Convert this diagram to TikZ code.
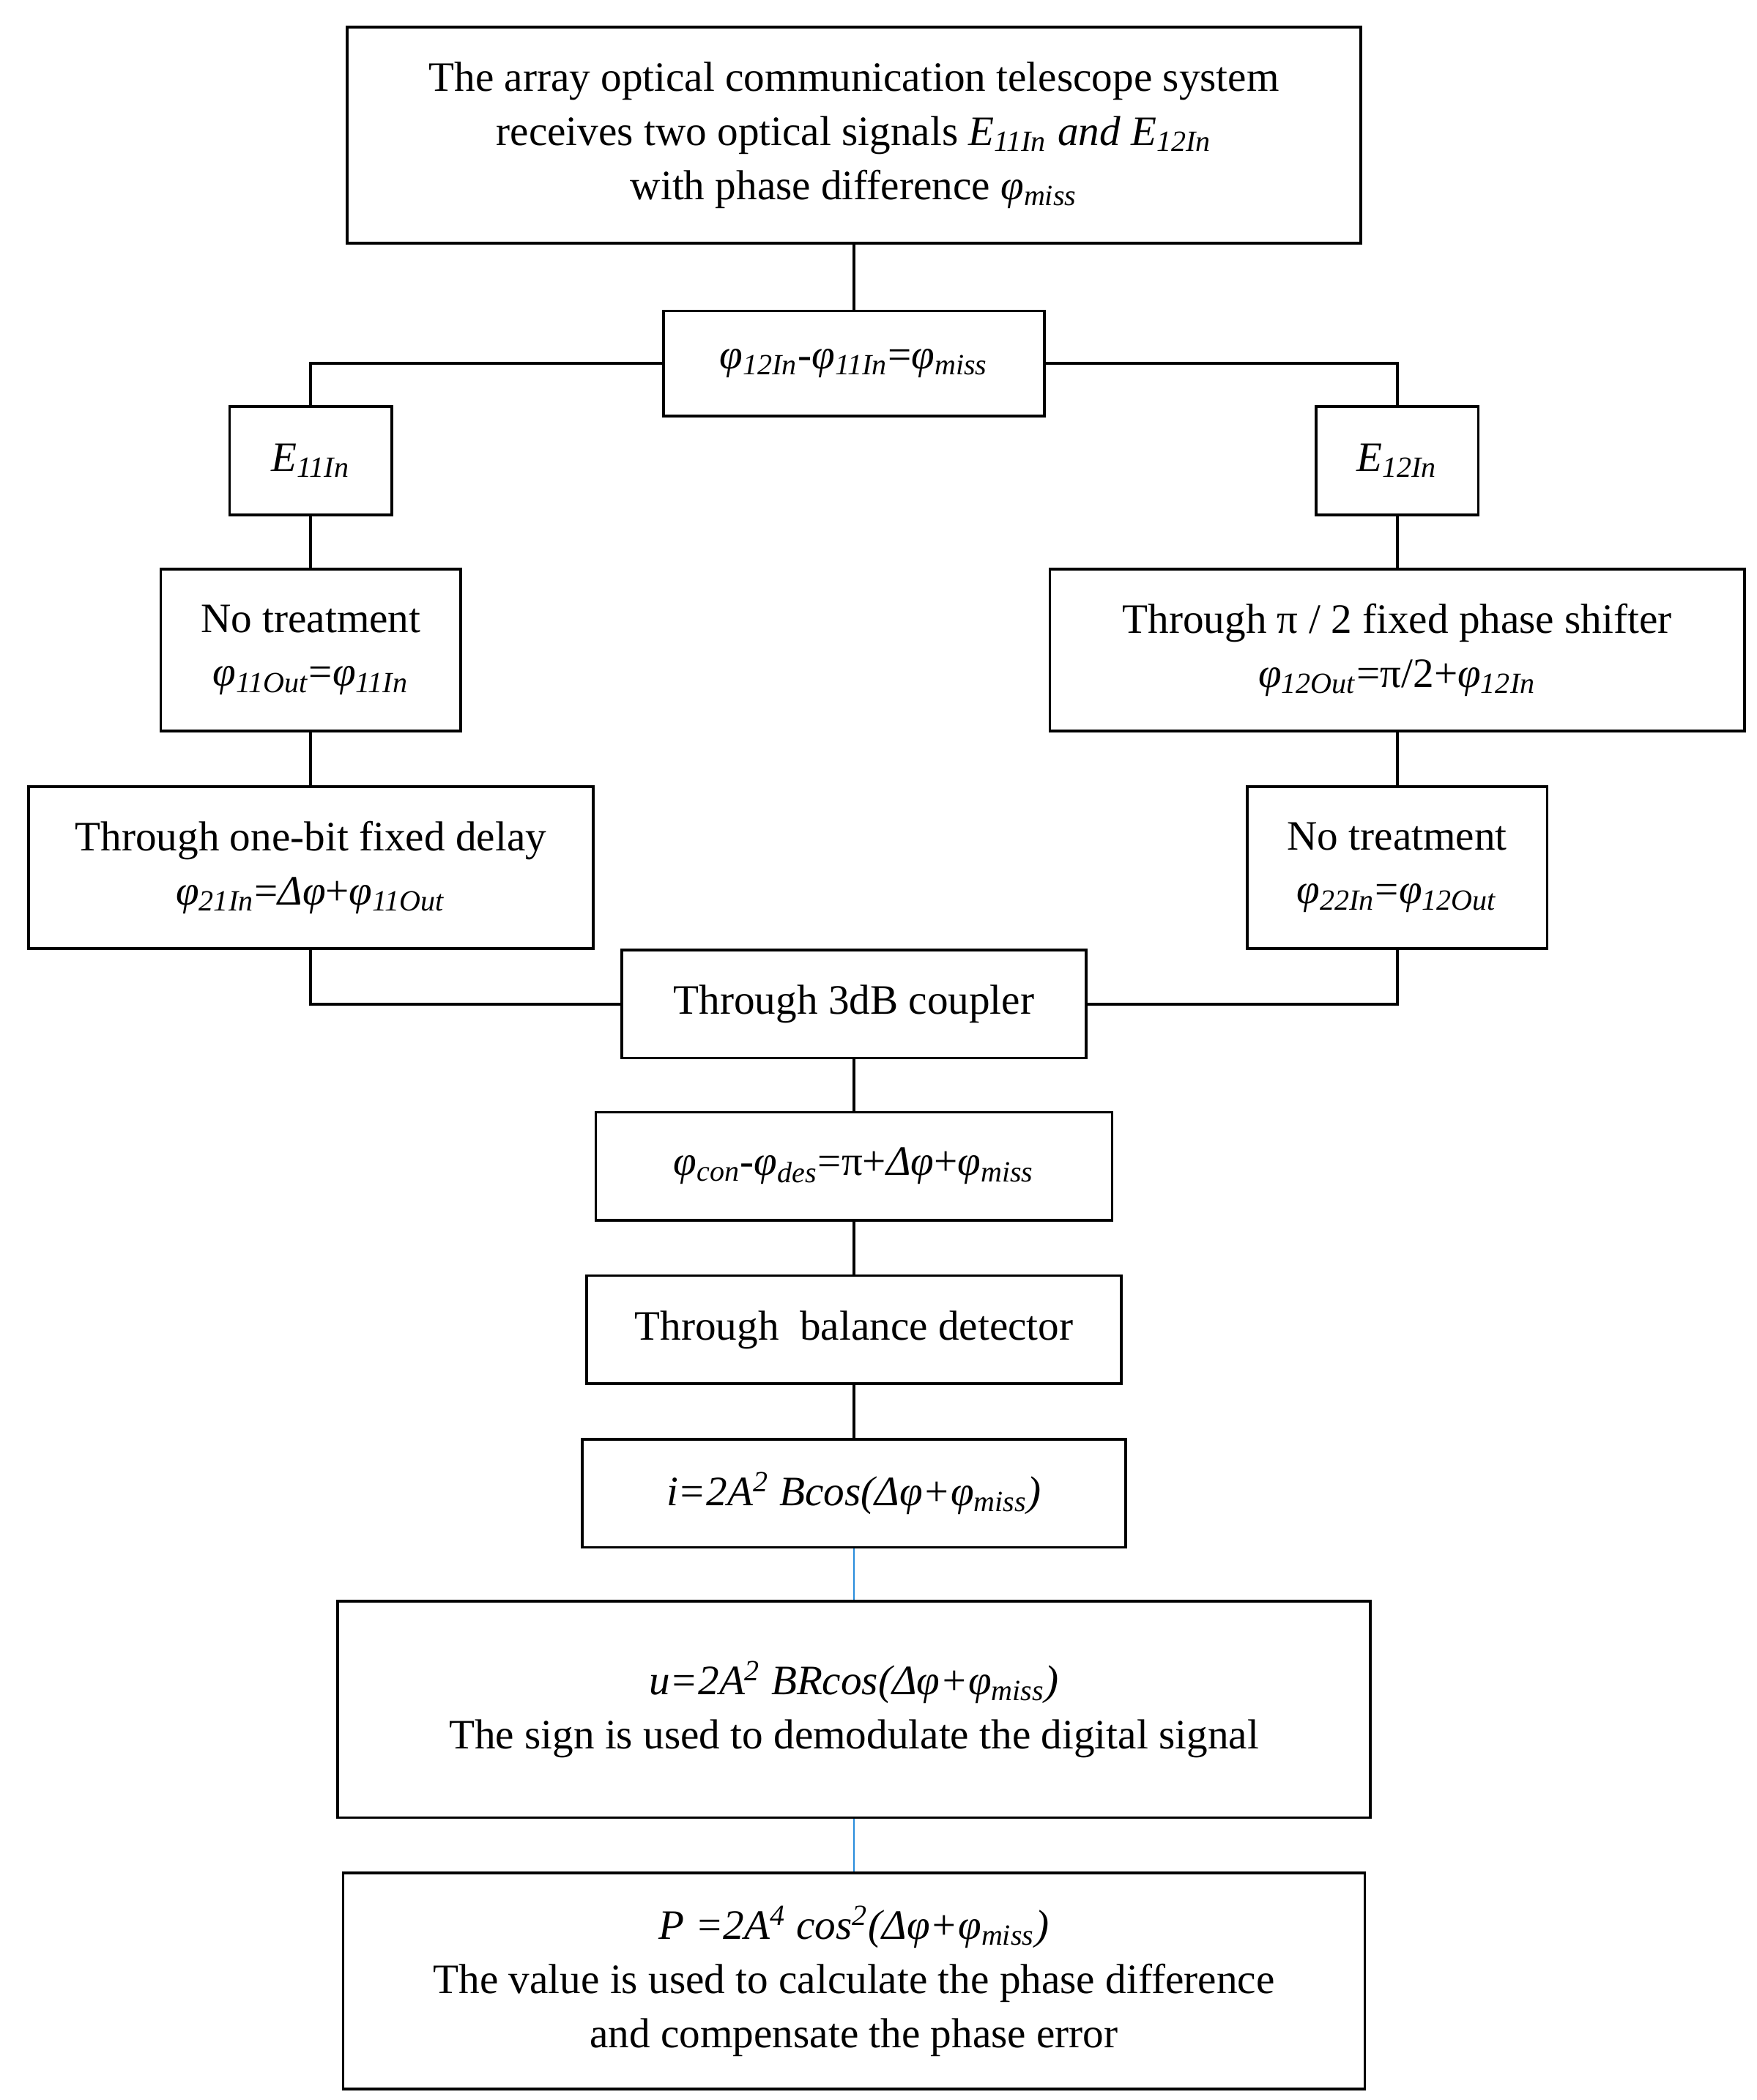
\documentclass[tikz,border=0pt]{standalone}
\usepackage{fontspec}
\setmainfont{Liberation Serif}
\newcommand{\ph}[1]{\textit{φ}\textsubscript{\textit{#1}}}
\newcommand{\ssb}[1]{\textsubscript{\textit{#1}}}
\begin{document}
\begin{tikzpicture}[x=0.5pt,y=-0.5pt,
  bx/.style={draw,line width=1pt,align=center,inner sep=0pt,font=\fontsize{15.5}{20}\selectfont},
  ln/.style={line width=1pt},
  bl/.style={line width=0.5pt,draw={rgb,255:red,40;green,140;blue,220}}]
\useasboundingbox (0,0) rectangle (1300,1554);
\node[bx,minimum width=375pt,minimum height=80pt] (top) at (632,100) {The array optical communication telescope system\\receives two optical signals \textit{E}\ssb{11In}\textit{ and E}\ssb{12In}\\with phase difference \ph{miss}};
\node[bx,minimum width=141pt,minimum height=39pt] (pd) at (632,269) {\ph{12In}-\ph{11In}=\ph{miss}};
\node[bx,minimum width=60pt,minimum height=40pt] (e11) at (230,341) {\textit{E}\ssb{11In}};
\node[bx,minimum width=60pt,minimum height=40pt] (e12) at (1034,341) {\textit{E}\ssb{12In}};
\node[bx,minimum width=111pt,minimum height=60pt] (ntl) at (230,481) {No treatment\\\ph{11Out}=\ph{11In}};
\node[bx,minimum width=257pt,minimum height=60pt] (ps) at (1034,481) {Through π / 2 fixed phase shifter\\\ph{12Out}=π/2+\ph{12In}};
\node[bx,minimum width=209pt,minimum height=60pt] (dl) at (230,642) {Through one-bit fixed delay\\\ph{21In}=\textit{Δφ}+\ph{11Out}};
\node[bx,minimum width=111pt,minimum height=60pt] (ntr) at (1034,642) {No treatment\\\ph{22In}=\ph{12Out}};
\node[bx,minimum width=172pt,minimum height=40pt] (cp) at (632,743) {Through 3dB coupler};
\node[bx,minimum width=191pt,minimum height=40pt] (pc) at (632,863) {\ph{con}-\ph{des}=π+\textit{Δφ}+\ph{miss}};
\node[bx,minimum width=198pt,minimum height=40pt] (bd) at (632,984) {Through\ \ balance detector};
\node[bx,minimum width=201pt,minimum height=40pt] (ii) at (632,1105) {\textit{i=2A\textsuperscript{2} Bcos(Δφ+}\ph{miss}\textit{)}};
\node[bx,minimum width=382pt,minimum height=80pt] (uu) at (632,1265) {\textit{u=2A\textsuperscript{2} BRcos(Δφ+}\ph{miss}\textit{)}\\The sign is used to demodulate the digital signal};
\node[bx,minimum width=378pt,minimum height=80pt] (pp) at (632,1466) {\textit{P =2A\textsuperscript{4} cos\textsuperscript{2}(Δφ+}\ph{miss}\textit{)}\\The value is used to calculate the phase difference\\and compensate the phase error};
\draw[ln] (top) -- (pd);
\draw[ln] (pd.west) -| (e11.north);
\draw[ln] (pd.east) -| (e12.north);
\draw[ln] (e11) -- (ntl);
\draw[ln] (ntl) -- (dl);
\draw[ln] (e12) -- (ps);
\draw[ln] (ps) -- (ntr);
\draw[ln] (dl.south) |- (cp.west);
\draw[ln] (ntr.south) |- (cp.east);
\draw[ln] (cp) -- (pc);
\draw[ln] (pc) -- (bd);
\draw[ln] (bd) -- (ii);
\draw[bl] (ii) -- (uu);
\draw[bl] (uu) -- (pp);
\end{tikzpicture}
\end{document}
